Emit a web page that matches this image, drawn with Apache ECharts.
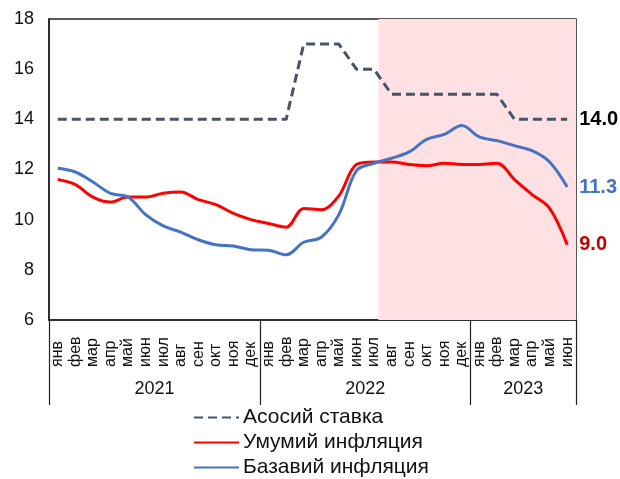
<!DOCTYPE html>
<html>
<head>
<meta charset="utf-8">
<script src="https://cdn.jsdelivr.net/npm/echarts@6/dist/echarts.min.js"></script>
<style>
  html, body { margin: 0; padding: 0; background: #fff; }
  #myChart { width: 620px; height: 479px; }
</style>
</head>
<body>
<div id="myChart"></div>
<script>
const monthNames = ['янв', 'фев', 'мар', 'апр', 'май', 'июн', 'июл', 'авг', 'сен', 'окт', 'ноя', 'дек'];
const months = monthNames.concat(monthNames, monthNames.slice(0, 6));
// year labels sit at the middle of each year block (position in months from Jan 2021)
const yearLabels = { 6: '2021', 18: '2022', 27: '2023' };
const shadeRange = [18.75, 30];

const rate = [14, 14, 14, 14, 14, 14, 14, 14, 14, 14, 14, 14, 14, 14, 17, 17, 17, 16, 16, 15, 15, 15, 15, 15, 15, 15, 14, 14, 14, 14];
const total = [11.6, 11.4, 10.9, 10.7, 10.9, 10.9, 11.05, 11.1, 10.8, 10.6, 10.25, 10.0, 9.85, 9.7, 10.45, 10.4, 10.95, 12.2, 12.3, 12.3, 12.2, 12.15, 12.25, 12.2, 12.2, 12.25, 11.6, 11.0, 10.45, 9.0];
const core = [12.05, 11.9, 11.5, 11.05, 10.9, 10.2, 9.75, 9.5, 9.2, 9.0, 8.95, 8.8, 8.78, 8.6, 9.1, 9.3, 10.2, 11.95, 12.25, 12.45, 12.7, 13.2, 13.4, 13.75, 13.3, 13.15, 12.95, 12.75, 12.3, 11.3];

const font = 'Arial, "Liberation Sans", sans-serif';

const endLabel = (color) => ({
  show: true,
  distance: 12,
  fontFamily: font,
  fontSize: 20,
  fontWeight: 'bold',
  color: color,
  formatter: (p) => Number(p.value).toFixed(1)
});

const myChart = echarts.init(document.getElementById('myChart'));
myChart.setOption({
  animation: false,
  grid: {
    left: 49,
    right: 44,
    top: 19,
    bottom: 159,
    show: true,
    borderColor: '#222',
    borderWidth: 1.5
  },
  legend: {
    data: ['Асосий ставка', 'Умумий инфляция', 'Базавий инфляция'],
    orient: 'vertical',
    left: 193,
    top: 407,
    padding: 0,
    itemWidth: 45,
    itemHeight: 14,
    itemGap: 4,
    itemStyle: { opacity: 0 },
    textStyle: { fontFamily: font, fontSize: 21, color: '#111', padding: [0, 0, 0, -1] }
  },
  xAxis: [
    {
      type: 'category',
      data: months,
      axisLine: { show: true, lineStyle: { color: '#222', width: 1.5 } },
      axisTick: {
        show: true,
        interval: (i) => i % 12 === 0,
        length: 85,
        lineStyle: { color: '#222', width: 1.2 }
      },
      axisLabel: {
        interval: 0,
        rotate: 90,
        align: 'left',
        margin: 47,
        fontFamily: font,
        fontSize: 16,
        color: '#111'
      },
      splitLine: { show: false }
    },
    {
      type: 'value',
      position: 'bottom',
      min: 0,
      max: 30,
      interval: 3,
      offset: 60,
      axisLine: { show: false },
      axisTick: { show: false },
      splitLine: { show: false },
      axisLabel: {
        margin: 0,
        fontFamily: font,
        fontSize: 18,
        color: '#111',
        formatter: (v) => yearLabels[v] || ''
      }
    }
  ],
  yAxis: {
    type: 'value',
    min: 6,
    max: 18,
    interval: 2,
    axisLine: { show: true, lineStyle: { color: '#222', width: 1.5 } },
    axisTick: { show: false },
    splitLine: { show: false },
    axisLabel: { margin: 15, fontFamily: font, fontSize: 18, color: '#111' }
  },
  series: [
    {
      type: 'line',
      xAxisIndex: 1,
      silent: true,
      data: [],
      markArea: {
        silent: true,
        itemStyle: { color: '#FFE1E3' },
        data: [[{ xAxis: shadeRange[0] }, { xAxis: shadeRange[1] }]]
      }
    },
    {
      name: 'Асосий ставка',
      type: 'line',
      data: rate,
      symbol: 'none',
      lineStyle: { color: '#44546A', width: 3, type: [9, 5] },
      itemStyle: { color: '#44546A' },
      endLabel: endLabel('#000')
    },
    {
      name: 'Умумий инфляция',
      type: 'line',
      data: total,
      smooth: 0.35,
      symbol: 'none',
      lineStyle: { color: '#FF0000', width: 3 },
      itemStyle: { color: '#FF0000' },
      endLabel: endLabel('#C00000')
    },
    {
      name: 'Базавий инфляция',
      type: 'line',
      data: core,
      smooth: 0.35,
      symbol: 'none',
      lineStyle: { color: '#4472C4', width: 3 },
      itemStyle: { color: '#4472C4' },
      endLabel: endLabel('#4472C4')
    }
  ]
});
</script>
</body>
</html>
